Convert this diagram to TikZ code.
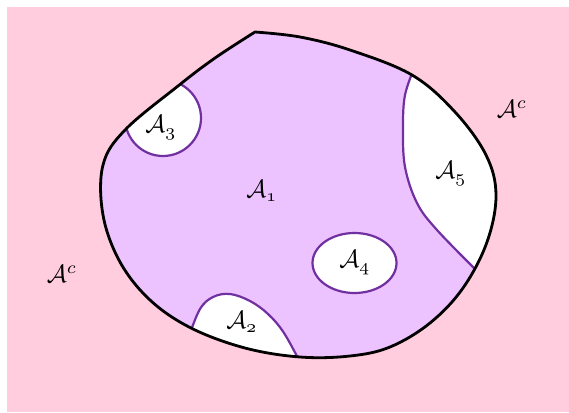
\documentclass[tikz,border=0pt]{standalone}
\usepackage{amsmath}
\usepackage{graphicx}
\definecolor{bgpink}{RGB}{255,205,222}
\definecolor{regpurple}{RGB}{236,194,255}
\definecolor{linepurple}{RGB}{112,48,160}
\tikzset{
  boundary/.style={draw=black, line width=2.8pt, line join=round},
  subline/.style={draw=linepurple, line width=2.2pt},
  lbl/.style={inner sep=0pt}
}
\newcommand{\osn}[1]{\oldstylenums{#1}}
\newcommand{\biglbl}[1]{\scalebox{2.5}{$#1$}}
\begin{document}
\begin{tikzpicture}[x=1pt, y=-1pt]
\useasboundingbox (0,0) rectangle (569,412);
\fill[bgpink] (7,7) rectangle (569,412);
\begin{scope}
\clip plot[smooth, tension=0.6] coordinates {(255,32) (300,37) (350,50) (412,75) (455,112) (486,155) (496,195) (487,242) (463,288) (430,323) (390,347) (350,356) (300,357) (245,348) (191,328) (150,300) (120,262) (103,215) (103,165) (125,130) (178,86) (215,58) (255,32)} -- cycle;
\fill[regpurple] (0,0) rectangle (569,412);
% A3
\draw[subline, fill=white] (163,118) circle [radius=38];
% A2
\fill[white] plot[smooth, tension=0.6] coordinates {(189,336) (200,309) (213,297) (230,294) (250,301) (268,314) (284,333) (301,364)} -- (310,380) -- (180,380) -- cycle;
\draw[subline] plot[smooth, tension=0.6] coordinates {(189,336) (200,309) (213,297) (230,294) (250,301) (268,314) (284,333) (301,364)};
% A5
\fill[white] plot[smooth, tension=0.6] coordinates {(415,66) (405,95) (403,128) (405,167) (417,203) (437,230) (479,273)} -- (530,290) -- (530,50) -- cycle;
\draw[subline] plot[smooth, tension=0.6] coordinates {(415,66) (405,95) (403,128) (405,167) (417,203) (437,230) (479,273)};
% A4
\draw[subline, fill=white] (354.5,263) ellipse [x radius=42, y radius=30];
\end{scope}
\draw[boundary] plot[smooth, tension=0.6] coordinates {(255,32) (300,37) (350,50) (412,75) (455,112) (486,155) (496,195) (487,242) (463,288) (430,323) (390,347) (350,356) (300,357) (245,348) (191,328) (150,300) (120,262) (103,215) (103,165) (125,130) (178,86) (215,58) (255,32)} -- cycle;
\node[lbl] (a1) at (262,191) {\biglbl{\mathcal{A}_{\osn{1}}}};
\node[lbl] (a2) at (242,322) {\biglbl{\mathcal{A}_{\osn{2}}}};
\node[lbl] (a3) at (161,128) {\biglbl{\mathcal{A}_{\osn{3}}}};
\node[lbl] (a4) at (355,263) {\biglbl{\mathcal{A}_{\osn{4}}}};
\node[lbl] (a5) at (451,174) {\biglbl{\mathcal{A}_{\osn{5}}}};
\node[lbl] (acl) at (62,274) {\biglbl{\mathcal{A}^{c}}};
\node[lbl] (acr) at (512,109) {\biglbl{\mathcal{A}^{c}}};
\end{tikzpicture}
\end{document}
